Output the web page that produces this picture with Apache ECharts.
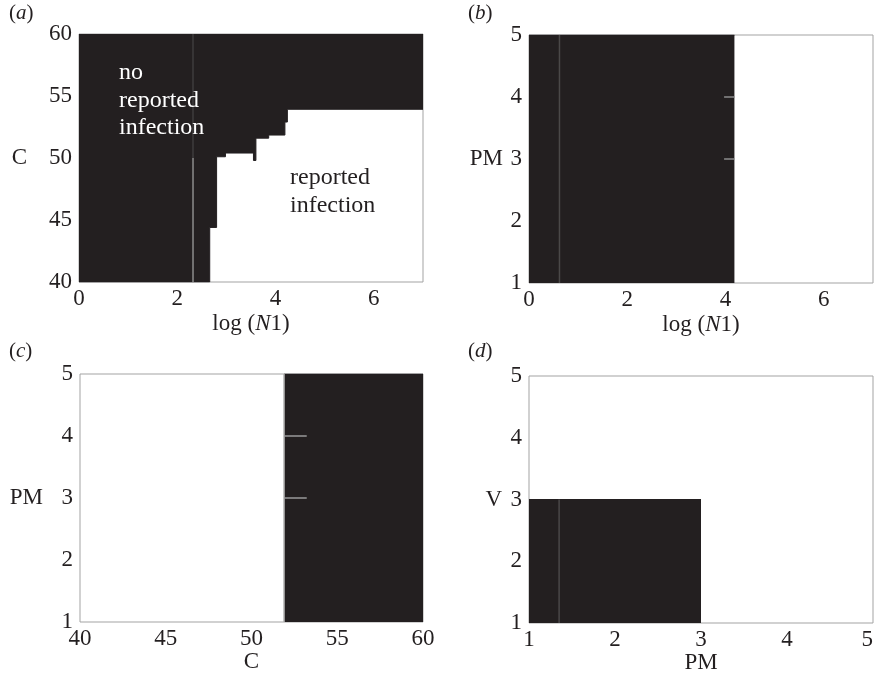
<!DOCTYPE html>
<html>
<head>
<meta charset="utf-8">
<script src="https://cdn.jsdelivr.net/npm/echarts@6/dist/echarts.min.js"></script>
<style>
  html, body { margin: 0; padding: 0; background: #fff; }
  #chart { width: 876px; height: 678px; }
</style>
</head>
<body>
<div id="chart"></div>
<script>
// panel (a): lower edge of the black region, as steps between breaks
const aBreaksN1 = [0, 2.66, 2.80, 2.98, 3.55, 3.60, 3.86, 4.19, 4.24, 7];
const aLevelsC = [40, 44.4, 50.1, 50.4, 49.8, 51.6, 51.85, 52.9, 53.93];
const aGreyLineN1 = 2.32;

// panel (b)
const bBlackEndN1 = 4.18;
const bGreyLineN1 = 0.62;
const bTickPM = [3, 4];
const bTickFromN1 = 3.97;

// panel (c)
const cBlackStartC = 51.9;
const cTickPM = [3, 4];
const cTickToC = 53.22;

// panel (d)
const dBlackEndPM = 3;
const dBlackTopV = 3;
const dGreyLinePM = 1.35;

const black = "#231f20";
const textColor = "#231f20";
const serif = "Liberation Serif";

const stepPoints = [];
for (let i = 0; i < aLevelsC.length; i++) {
  stepPoints.push([aBreaksN1[i], aLevelsC[i]]);
  stepPoints.push([aBreaksN1[i + 1], aLevelsC[i]]);
}

function xAxis(idx, min, max, interval, name, gap, showMax) {
  return {
    type: "value", gridIndex: idx, min: min, max: max, interval: interval,
    name: name, nameLocation: "middle", nameGap: gap,
    nameTextStyle: {
      color: textColor, fontFamily: serif, fontSize: 23,
      rich: {
        n: { fontFamily: serif, fontSize: 23, color: textColor },
        i: { fontFamily: serif, fontSize: 23, color: textColor, fontStyle: "italic" },
      },
    },
    axisLine: { show: false }, axisTick: { show: false }, splitLine: { show: false },
    axisLabel: { color: textColor, fontFamily: serif, fontSize: 23, margin: 5, showMinLabel: true, showMaxLabel: showMax },
  };
}
function yAxis(idx, min, max, interval, name, gap) {
  return {
    type: "value", gridIndex: idx, min: min, max: max, interval: interval,
    name: name, nameLocation: "middle", nameGap: gap, nameRotate: 0,
    nameTextStyle: { color: textColor, fontFamily: serif, fontSize: 23 },
    axisLine: { show: false }, axisTick: { show: false }, splitLine: { show: false },
    axisLabel: { color: textColor, fontFamily: serif, fontSize: 23, margin: 7, showMinLabel: true, showMaxLabel: true },
  };
}
function greyLine(idx, pts, color) {
  return {
    type: "line", xAxisIndex: idx, yAxisIndex: idx, data: pts, showSymbol: false, silent: true,
    z: 5, lineStyle: { color: color, width: 1.5 },
  };
}
function blackArea(idx, pts, origin) {
  return {
    type: "line", xAxisIndex: idx, yAxisIndex: idx, data: pts, showSymbol: false, silent: true,
    lineStyle: { color: black, width: 1 },
    areaStyle: { color: black, opacity: 1, origin: origin },
  };
}

const gridBase = { show: true, backgroundColor: "#fff", borderColor: "#a3a3a3", borderWidth: 1, containLabel: false, outerBoundsMode: "none" };

const series = [
  blackArea(0, stepPoints, "end"),
  greyLine(0, [[aGreyLineN1, 50], [aGreyLineN1, 60]], "#3e3c3d"),
  greyLine(0, [[aGreyLineN1, 40], [aGreyLineN1, 50]], "#8c8c8c"),

  blackArea(1, [[0, 5], [bBlackEndN1, 5]], "start"),
  greyLine(1, [[bGreyLineN1, 1], [bGreyLineN1, 5]], "#4a4848"),

  blackArea(2, [[cBlackStartC, 5], [60, 5]], "start"),
  greyLine(2, [[cBlackStartC, 1], [cBlackStartC, 5]], "#a8a8a8"),

  blackArea(3, [[1, dBlackTopV], [dBlackEndPM, dBlackTopV]], "start"),
  greyLine(3, [[dGreyLinePM, 1], [dGreyLinePM, dBlackTopV]], "#4a4848"),
];
bTickPM.forEach(function (pm) {
  series.push(greyLine(1, [[bTickFromN1, pm], [bBlackEndN1, pm]], "#8c8c8c"));
});
cTickPM.forEach(function (pm) {
  series.push(greyLine(2, [[cBlackStartC, pm], [cTickToC, pm]], "#9a9a9a"));
});

function panelLabel(x, y, letter) {
  return {
    type: "text", left: x, top: y, z: 100,
    style: {
      text: "{p|(}{l|" + letter + "}{p|)}",
      rich: {
        p: { fontFamily: serif, fontSize: 21, fill: textColor },
        l: { fontFamily: serif, fontSize: 21, fill: textColor, fontStyle: "italic" },
      },
    },
  };
}

const xd = xAxis(3, 1, 5, 1, "PM", 28, true);
xd.axisLabel.alignMaxLabel = "right";

const chart = echarts.init(document.getElementById("chart"));
chart.setOption({
  animation: false,
  backgroundColor: "#fff",
  grid: [
    Object.assign({ left: 79, top: 34, width: 344, height: 248 }, gridBase),
    Object.assign({ left: 529, top: 35, width: 344, height: 248 }, gridBase),
    Object.assign({ left: 80, top: 374, width: 343, height: 248 }, gridBase),
    Object.assign({ left: 529, top: 376, width: 344, height: 247 }, gridBase),
  ],
  xAxis: [
    xAxis(0, 0, 7, 2, "{n|log (}{i|N}{n|1)}", 30, false),
    xAxis(1, 0, 7, 2, "{n|log (}{i|N}{n|1)}", 30, false),
    xAxis(2, 40, 60, 5, "C", 28, true),
    xd,
  ],
  yAxis: [
    yAxis(0, 40, 60, 5, "C", 52),
    yAxis(1, 1, 5, 1, "PM", 26),
    yAxis(2, 1, 5, 1, "PM", 37),
    yAxis(3, 1, 5, 1, "V", 27),
  ],
  series: series,
  graphic: [
    panelLabel(9, 3, "a"),
    panelLabel(468, 3, "b"),
    panelLabel(9, 341, "c"),
    panelLabel(468, 341, "d"),
    {
      type: "text", left: 119, top: 59, z: 100,
      style: { text: "no\nreported\ninfection", fontFamily: serif, fontSize: 24, lineHeight: 27.5, fill: "#fff" },
    },
    {
      type: "text", left: 290, top: 164, z: 100,
      style: { text: "reported\ninfection", fontFamily: serif, fontSize: 24, lineHeight: 27.5, fill: textColor },
    },
  ],
});
</script>
</body>
</html>
